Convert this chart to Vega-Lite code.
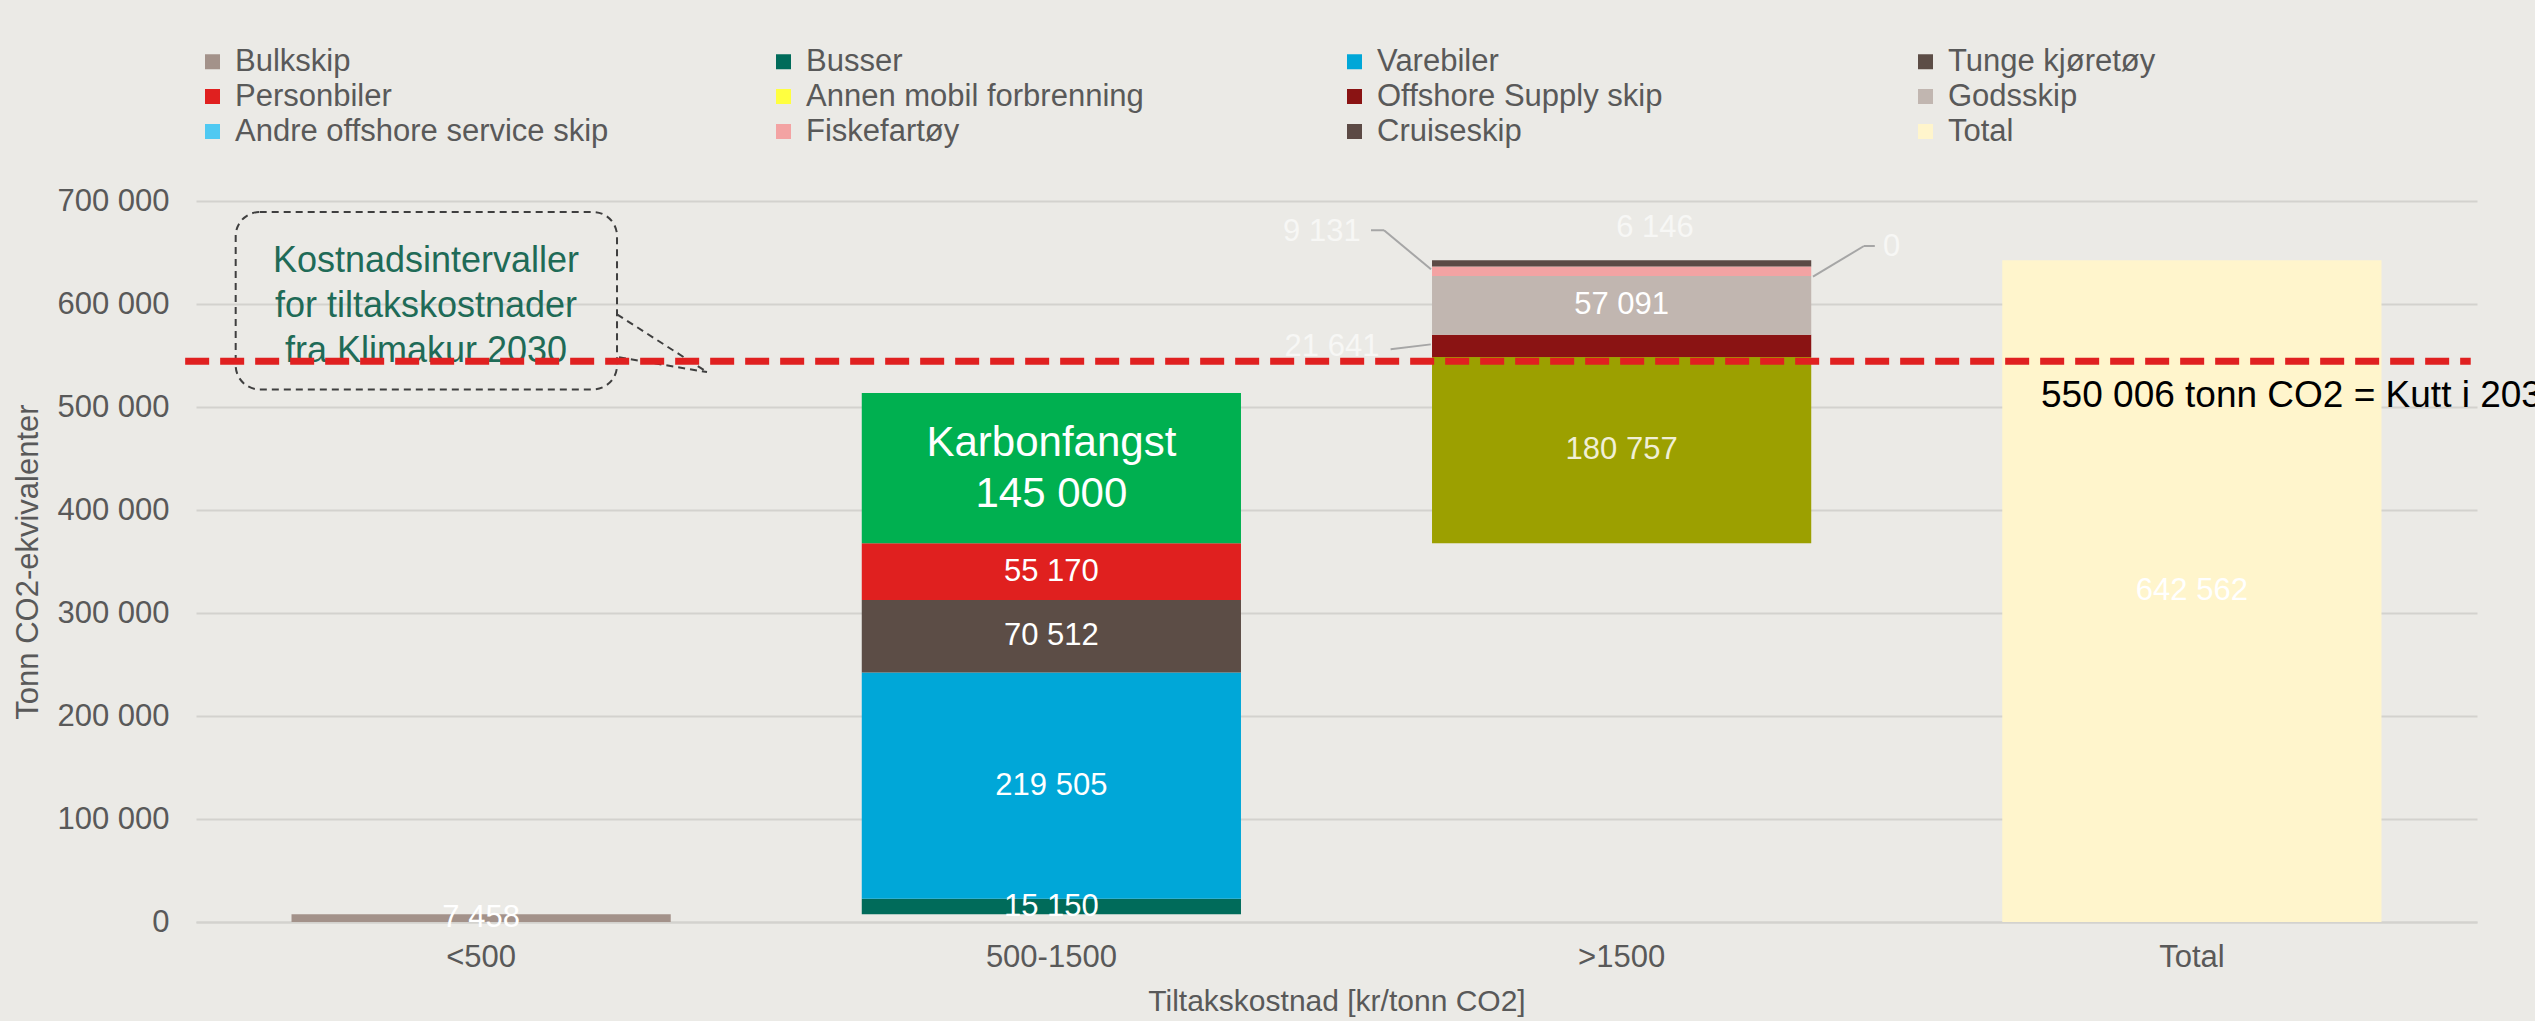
{
  "$schema": "https://vega.github.io/schema/vega-lite/v6.json",
  "width": 2281,
  "height": 721,
  "autosize": {"type": "none"},
  "padding": {"left": 196, "top": 201, "right": 58, "bottom": 99},
  "background": "#ebeae6",
  "config": {
    "view": {"stroke": null},
    "font": "Liberation Sans",
    "locale": {"number": {"decimal": ",", "thousands": " ", "grouping": [3], "currency": ["", ""]}}
  },
  "datasets": {
    "segments": [
      {"cost": "<500", "series": "Bulkskip", "value": 7458, "start": 0, "end": 7458},
      {"cost": "500-1500", "series": "Busser", "value": 15150, "start": 7458, "end": 22608},
      {"cost": "500-1500", "series": "Varebiler", "value": 219505, "start": 22608, "end": 242113},
      {"cost": "500-1500", "series": "Tunge kjøretøy", "value": 70512, "start": 242113, "end": 312625},
      {"cost": "500-1500", "series": "Personbiler", "value": 55170, "start": 312625, "end": 367795},
      {"cost": "500-1500", "series": "Karbonfangst", "value": 145000, "start": 367795, "end": 513500},
      {"cost": ">1500", "series": "Annen mobil forbrenning", "value": 180757, "start": 367795, "end": 548552},
      {"cost": ">1500", "series": "Offshore Supply skip", "value": 21641, "start": 548552, "end": 570193},
      {"cost": ">1500", "series": "Godsskip", "value": 57091, "start": 570193, "end": 627284},
      {"cost": ">1500", "series": "Andre offshore service skip", "value": 0, "start": 627284, "end": 627284},
      {"cost": ">1500", "series": "Fiskefartøy", "value": 9131, "start": 627284, "end": 636415},
      {"cost": ">1500", "series": "Cruiseskip", "value": 6146, "start": 636415, "end": 642561},
      {"cost": "Total", "series": "Total", "value": 642562, "start": 0, "end": 642562}
    ],
    "leaders": [
      {"x": 2.0605, "x2": 2.0833, "y": 671600, "y2": 671600},
      {"x": 2.0833, "x2": 2.1657, "y": 671600, "y2": 633700},
      {"x": 2.0949, "x2": 2.1654, "y": 556000, "y2": 560800},
      {"x": 2.925, "x2": 2.944, "y": 656300, "y2": 656300},
      {"x": 2.925, "x2": 2.8356, "y": 656300, "y2": 626600}
    ],
    "tail": [
      {"x": 0.7383, "x2": 0.8961, "y": 590000, "y2": 533900},
      {"x": 0.7418, "x2": 0.8961, "y": 548200, "y2": 533900}
    ],
    "box": [
      {"x": 0.0696, "x2": 0.7383, "y": 689300, "y2": 517100, "cx": 0.4033, "ty": 631400, "text": "Kostnadsintervaller\nfor tiltakskostnader\nfra Klimakur 2030"}
    ],
    "sidelabels": [
      {"x": 2.0423, "y": 670100, "value": 9131, "side": "left"},
      {"x": 2.0753, "y": 557900, "value": 21641, "side": "left"},
      {"x": 2.5585, "y": 673500, "value": 6146, "side": "center"},
      {"x": 2.9583, "y": 655600, "value": 0, "side": "right"}
    ],
    "target": [
      {"x": -0.019, "x2": 3.989, "y": 544300, "tx": 3.2355, "ty": 499600, "text": "550 006 tonn CO2 = Kutt i 2030"}
    ]
  },
  "layer": [
    {
      "data": {"name": "segments"},
      "encoding": {
        "x": {
          "field": "cost",
          "type": "nominal",
          "sort": ["<500", "500-1500", ">1500", "Total"],
          "scale": {"paddingInner": 0.335, "paddingOuter": 0.1675},
          "title": "Tiltakskostnad [kr/tonn CO2]",
          "axis": {
            "domain": true, "domainColor": "#d3d2ce", "domainWidth": 2,
            "ticks": false, "tickSize": 0, "labelAngle": 0,
            "labelFontSize": 31, "labelColor": "#595959", "labelPadding": 20,
            "titleFontSize": 30, "titleColor": "#595959", "titleFontWeight": "normal", "titlePadding": 14
          }
        }
      },
      "layer": [
        {
          "transform": [{"filter": "datum.series !== 'Karbonfangst'"}],
          "mark": {"type": "bar"},
          "encoding": {
            "y": {
              "field": "start",
              "type": "quantitative",
              "scale": {"domain": [0, 700000], "nice": false},
              "title": "Tonn CO2-ekvivalenter",
              "axis": {
                "values": [0, 100000, 200000, 300000, 400000, 500000, 600000, 700000],
                "format": ",d",
                "grid": true, "gridColor": "#d3d2ce", "gridWidth": 2,
                "domain": false, "ticks": false, "tickSize": 0,
                "labelFontSize": 31, "labelColor": "#595959", "labelPadding": 27,
                "titleFontSize": 31, "titleColor": "#595959", "titleFontWeight": "normal", "titlePadding": 12
              }
            },
            "y2": {"field": "end"},
            "color": {
              "field": "series",
              "type": "nominal",
              "condition": {"test": "datum.series === 'Annen mobil forbrenning'", "value": "#9ca000"},
              "scale": {
                "domain": ["Bulkskip", "Busser", "Varebiler", "Tunge kjøretøy", "Personbiler", "Annen mobil forbrenning", "Offshore Supply skip", "Godsskip", "Andre offshore service skip", "Fiskefartøy", "Cruiseskip", "Total"],
                "range": ["#a3928a", "#006b5a", "#00a7d8", "#5c4d46", "#e0201f", "#ffff40", "#8a1313", "#c1b6b0", "#4fc9f2", "#f3a3a3", "#5c4a45", "#fff5cc"]
              },
              "legend": {
                "title": null,
                "orient": "none",
                "legendX": 1,
                "legendY": -155,
                "direction": "horizontal",
                "columns": 4,
                "gridAlign": "all",
                "columnPadding": 159,
                "rowPadding": 3,
                "padding": 0,
                "symbolType": "square",
                "symbolSize": 225,
                "symbolStrokeWidth": 0,
                "labelFontSize": 31,
                "labelColor": "#595959",
                "labelOffset": 7,
                "labelLimit": 600
              }
            }
          }
        },
        {
          "transform": [{"filter": "datum.series === 'Karbonfangst'"}],
          "mark": {"type": "bar", "color": "#00b050"},
          "encoding": {
            "y": {"field": "start", "type": "quantitative"},
            "y2": {"field": "end"}
          }
        },
        {
          "transform": [
            {"filter": {"field": "series", "oneOf": ["Bulkskip", "Busser", "Varebiler", "Tunge kjøretøy", "Personbiler", "Annen mobil forbrenning", "Godsskip", "Total"]}},
            {"calculate": "(datum.start + datum.end) / 2", "as": "mid"}
          ],
          "mark": {"type": "text", "fontSize": 31, "baseline": "middle", "align": "center"},
          "encoding": {
            "y": {"field": "mid", "type": "quantitative"},
            "text": {"field": "value", "type": "quantitative", "format": ",d"},
            "color": {"condition": {"test": "datum.series === 'Annen mobil forbrenning'", "value": "#f0efd6"}, "value": "#ffffff"}
          }
        },
        {
          "transform": [
            {"filter": "datum.series === 'Karbonfangst'"},
            {"calculate": "(datum.start + datum.end) / 2", "as": "mid"},
            {"calculate": "datum.series + '\\n' + format(datum.value, ',d')", "as": "label"}
          ],
          "mark": {"type": "text", "fontSize": 42, "baseline": "middle", "align": "center", "lineBreak": "\n", "lineHeight": 51, "dy": -25, "color": "#ffffff"},
          "encoding": {
            "y": {"field": "mid", "type": "quantitative"},
            "text": {"field": "label", "type": "nominal"}
          }
        }
      ]
    },
    {
      "encoding": {
        "x": {"type": "quantitative", "scale": {"domain": [0, 4], "nice": false, "zero": false}, "axis": null}
      },
      "layer": [
        {
          "data": {"name": "box"},
          "mark": {"type": "rect", "fill": null, "fillOpacity": 0, "stroke": "#3f3f3f", "strokeWidth": 2, "strokeDash": [7, 5], "cornerRadius": 24},
          "encoding": {
            "x": {"field": "x", "type": "quantitative"},
            "x2": {"field": "x2"},
            "y": {"field": "y", "type": "quantitative"},
            "y2": {"field": "y2"}
          }
        },
        {
          "data": {"name": "tail"},
          "mark": {"type": "rule", "stroke": "#3f3f3f", "strokeWidth": 2, "strokeDash": [7, 5]},
          "encoding": {
            "x": {"field": "x", "type": "quantitative"},
            "x2": {"field": "x2"},
            "y": {"field": "y", "type": "quantitative"},
            "y2": {"field": "y2"}
          }
        },
        {
          "data": {"name": "box"},
          "mark": {"type": "text", "fontSize": 36, "color": "#1f6b57", "align": "center", "baseline": "alphabetic", "lineBreak": "\n", "lineHeight": 45},
          "encoding": {
            "x": {"field": "cx", "type": "quantitative"},
            "y": {"field": "ty", "type": "quantitative"},
            "text": {"field": "text", "type": "nominal"}
          }
        },
        {
          "data": {"name": "leaders"},
          "mark": {"type": "rule", "stroke": "#a6a6a6", "strokeWidth": 2},
          "encoding": {
            "x": {"field": "x", "type": "quantitative"},
            "x2": {"field": "x2"},
            "y": {"field": "y", "type": "quantitative"},
            "y2": {"field": "y2"}
          }
        },
        {
          "data": {"name": "sidelabels"},
          "transform": [{"filter": "datum.side === 'left'"}],
          "mark": {"type": "text", "fontSize": 31, "color": "#f7f7f5", "align": "right", "baseline": "middle"},
          "encoding": {
            "x": {"field": "x", "type": "quantitative"},
            "y": {"field": "y", "type": "quantitative"},
            "text": {"field": "value", "type": "quantitative", "format": ",d"}
          }
        },
        {
          "data": {"name": "sidelabels"},
          "transform": [{"filter": "datum.side === 'center'"}],
          "mark": {"type": "text", "fontSize": 31, "color": "#f7f7f5", "align": "center", "baseline": "middle"},
          "encoding": {
            "x": {"field": "x", "type": "quantitative"},
            "y": {"field": "y", "type": "quantitative"},
            "text": {"field": "value", "type": "quantitative", "format": ",d"}
          }
        },
        {
          "data": {"name": "sidelabels"},
          "transform": [{"filter": "datum.side === 'right'"}],
          "mark": {"type": "text", "fontSize": 31, "color": "#f7f7f5", "align": "left", "baseline": "middle"},
          "encoding": {
            "x": {"field": "x", "type": "quantitative"},
            "y": {"field": "y", "type": "quantitative"},
            "text": {"field": "value", "type": "quantitative", "format": ",d"}
          }
        },
        {
          "data": {"name": "target"},
          "mark": {"type": "rule", "stroke": "#e02020", "strokeWidth": 7, "strokeDash": [24, 11]},
          "encoding": {
            "x": {"field": "x", "type": "quantitative"},
            "x2": {"field": "x2"},
            "y": {"field": "y", "type": "quantitative"}
          }
        },
        {
          "data": {"name": "target"},
          "mark": {"type": "text", "fontSize": 37, "color": "#000000", "align": "left", "baseline": "alphabetic"},
          "encoding": {
            "x": {"field": "tx", "type": "quantitative"},
            "y": {"field": "ty", "type": "quantitative"},
            "text": {"field": "text", "type": "nominal"}
          }
        }
      ]
    }
  ],
  "resolve": {"scale": {"x": "independent"}}
}
